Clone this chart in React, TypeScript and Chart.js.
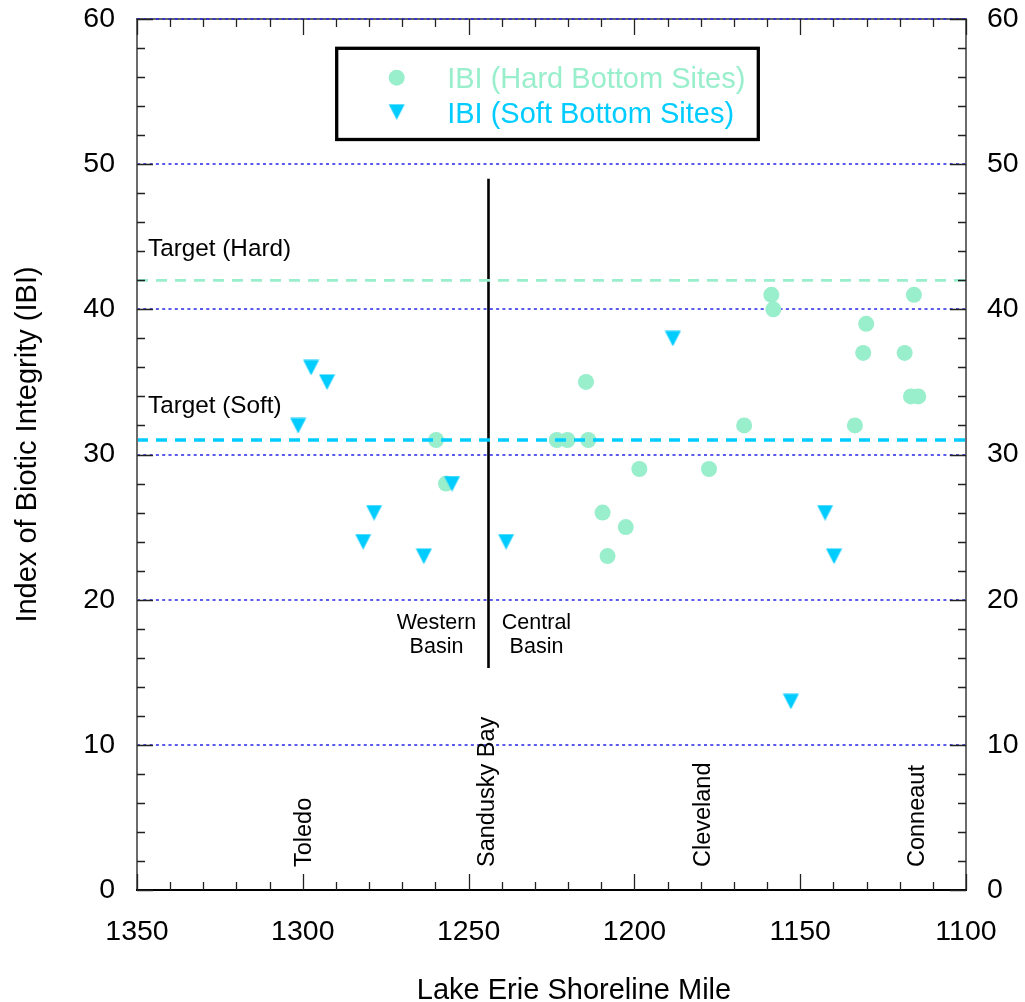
import React, { useEffect, useRef } from "react";
import { Chart, registerables } from "chart.js";

Chart.register(...registerables);

// ---------------- data ----------------
const hardMiles = [1259.8, 1256.8, 1223.4, 1220.2, 1213.9, 1214.6, 1198.5, 1209.6, 1202.6, 1208.1, 1177.5, 1166.9, 1158.7, 1158.1, 1130.1, 1131.0, 1133.5, 1118.5, 1115.7, 1116.6, 1114.4];
const hardIBI = [31, 28, 31, 31, 31, 35, 29, 26, 25, 23, 29, 32, 41, 40, 39, 37, 32, 37, 41, 34, 34];

const softMiles = [1301.4, 1297.5, 1292.7, 1281.8, 1278.5, 1263.5, 1255.0, 1238.7, 1188.4, 1152.8, 1142.5, 1139.8];
const softIBI = [32, 36, 35, 24, 26, 23, 28, 24, 38, 13, 26, 23];

const xMin = 1100;
const xMax = 1350;
const xMajorStep = 50;
const yMin = 0;
const yMax = 60;
const yMajorStep = 10;
const gridValues = [10, 20, 30, 40, 50];

const targetHard = 42;
const targetSoft = 31;
const dividerMile = 1244;
const dividerRange = [15.3, 49];

const placeNames = ["Toledo", "Sandusky Bay", "Cleveland", "Conneaut"];
const placeMiles = [1299.6, 1244.2, 1179.2, 1114.6];

const legendLabels = ["IBI (Hard Bottom Sites)", "IBI (Soft Bottom Sites)"];

// ---------------- styles ----------------
const FONT = '"Liberation Sans", Arial, Helvetica, sans-serif';
const HARD_COLOR = "#99EECC";
const SOFT_COLOR = "#00CCFF";
const GRID_COLOR = "#2424e6";

function makeTriangle(color: string) {
  const c = document.createElement("canvas");
  c.width = 17;
  c.height = 16;
  const g = c.getContext("2d")!;
  g.fillStyle = color;
  g.beginPath();
  g.moveTo(0.5, 0.5);
  g.lineTo(16.5, 0.5);
  g.lineTo(8.5, 16);
  g.closePath();
  g.fill();
  return c;
}

function drawGridLine(ctx: any, a: any, py: number) {
  ctx.beginPath();
  ctx.moveTo(a.left, py);
  ctx.lineTo(a.right, py);
  ctx.stroke();
}

const decorPlugin = {
  id: "decor",
  beforeDatasetsDraw(chart: any) {
    const { ctx, chartArea: a } = chart;
    const y = chart.scales.y;
    ctx.save();
    ctx.strokeStyle = GRID_COLOR;
    ctx.lineWidth = 1.4;
    ctx.setLineDash([3, 3.3]);
    for (const v of gridValues) {
      drawGridLine(ctx, a, Math.round(y.getPixelForValue(v)));
    }
    ctx.restore();
  },
  afterDraw(chart: any) {
    const { ctx, chartArea: a } = chart;
    const x = chart.scales.x;
    const y = chart.scales.y;
    ctx.save();

    // frame
    ctx.setLineDash([]);
    ctx.lineWidth = 2;
    ctx.strokeStyle = "#6b6b6b";
    ctx.beginPath();
    ctx.moveTo(a.left, a.top);
    ctx.lineTo(a.left, a.bottom);
    ctx.moveTo(a.right, a.top);
    ctx.lineTo(a.right, a.bottom);
    ctx.stroke();
    ctx.strokeStyle = "#000";
    ctx.beginPath();
    ctx.moveTo(a.left - 1, a.bottom);
    ctx.lineTo(a.right + 1, a.bottom);
    ctx.stroke();
    ctx.lineWidth = 1.5;
    ctx.strokeStyle = "#333";
    ctx.beginPath();
    ctx.moveTo(a.left - 1, a.top);
    ctx.lineTo(a.right + 1, a.top);
    ctx.stroke();
    // top gridline (60)
    ctx.strokeStyle = GRID_COLOR;
    ctx.lineWidth = 1.4;
    ctx.setLineDash([3, 3.3]);
    drawGridLine(ctx, a, Math.round(y.getPixelForValue(yMax)));
    ctx.setLineDash([]);

    // ticks (inward, all four sides)
    ctx.strokeStyle = "#222";
    ctx.lineWidth = 1.3;
    ctx.beginPath();
    for (let v = xMin; v <= xMax; v += xMajorStep / 5) {
      const px = Math.round(x.getPixelForValue(v)) + 0.5;
      const len = v % xMajorStep === 0 ? 16 : 8;
      ctx.moveTo(px, a.bottom);
      ctx.lineTo(px, a.bottom - len);
      ctx.moveTo(px, a.top);
      ctx.lineTo(px, a.top + len);
    }
    for (let v = yMin; v <= yMax; v += yMajorStep / 5) {
      const py = Math.round(y.getPixelForValue(v)) + 0.5;
      const len = v % yMajorStep === 0 ? 16 : 8;
      ctx.moveTo(a.left, py);
      ctx.lineTo(a.left + len, py);
      ctx.moveTo(a.right, py);
      ctx.lineTo(a.right - len, py);
    }
    ctx.stroke();

    ctx.fillStyle = "#000";
    // target labels
    ctx.font = `24.3px ${FONT}`;
    ctx.textAlign = "left";
    ctx.textBaseline = "alphabetic";
    ctx.fillText("Target (Hard)", a.left + 11, y.getPixelForValue(targetHard) - 24);
    ctx.fillText("Target (Soft)", a.left + 11, y.getPixelForValue(targetSoft) - 27);

    // basin labels
    ctx.font = `21.5px ${FONT}`;
    ctx.textAlign = "center";
    const dx = x.getPixelForValue(dividerMile);
    const by1 = y.getPixelForValue(dividerRange[0]) - 38.7;
    const by2 = by1 + 24;
    ctx.fillText("Western", dx - 52, by1);
    ctx.fillText("Basin", dx - 52, by2);
    ctx.fillText("Central", dx + 48, by1);
    ctx.fillText("Basin", dx + 48, by2);

    // place labels (rotated)
    ctx.font = `23.5px ${FONT}`;
    ctx.textAlign = "left";
    ctx.textBaseline = "middle";
    placeNames.forEach((name, i) => {
      ctx.save();
      ctx.translate(x.getPixelForValue(placeMiles[i]), a.bottom - 23);
      ctx.rotate(-Math.PI / 2);
      ctx.fillText(name, 0, 0);
      ctx.restore();
    });

    // axis titles
    ctx.font = `29px ${FONT}`;
    ctx.textAlign = "center";
    ctx.textBaseline = "alphabetic";
    ctx.fillText("Lake Erie Shoreline Mile", 574, 999);
    ctx.save();
    ctx.translate(36, 444.5);
    ctx.rotate(-Math.PI / 2);
    ctx.fillText("Index of Biotic Integrity (IBI)", 0, 0);
    ctx.restore();

    // legend
    const lx = a.left + 199.7;
    const ly = a.top + 29.3;
    ctx.lineWidth = 3.3;
    ctx.strokeStyle = "#000";
    ctx.strokeRect(lx, ly, 421.6, 91.2);
    ctx.fillStyle = HARD_COLOR;
    ctx.beginPath();
    ctx.arc(lx + 60, ly + 29.4, 8, 0, Math.PI * 2);
    ctx.fill();
    const tri = chart.$tri;
    if (tri) ctx.drawImage(tri, lx + 60 - 8.5, ly + 63.4 - 8);
    ctx.font = `29px ${FONT}`;
    ctx.textAlign = "left";
    ctx.fillStyle = HARD_COLOR;
    ctx.fillText(legendLabels[0], lx + 110.5, ly + 40);
    ctx.fillStyle = SOFT_COLOR;
    ctx.fillText(legendLabels[1], lx + 110.5, ly + 74.4);

    ctx.restore();
  },
};

const plainTick = (v: any) => String(v);

export default function App() {
  const ref = useRef<HTMLCanvasElement | null>(null);

  useEffect(() => {
    if (!ref.current) return;
    const tri = makeTriangle(SOFT_COLOR);
    const hardData = hardMiles.map((m, i) => ({ x: m, y: hardIBI[i] }));
    const softData = softMiles.map((m, i) => ({ x: m, y: softIBI[i] }));
    const tickFont = { family: FONT, size: 28.5 };
    const noPad = (s: any) => {
      s.paddingTop = 0;
      s.paddingBottom = 0;
      s.paddingLeft = 0;
      s.paddingRight = 0;
    };

    const chart = new Chart(ref.current, {
      type: "scatter",
      data: {
        datasets: [
          {
            label: "Target (Hard)",
            data: [
              { x: xMax, y: targetHard },
              { x: xMin, y: targetHard },
            ],
            showLine: true,
            borderColor: HARD_COLOR,
            borderWidth: 2.7,
            borderDash: [11, 8],
            pointRadius: 0,
            order: 1,
          },
          {
            label: "Target (Soft)",
            data: [
              { x: xMax, y: targetSoft },
              { x: xMin, y: targetSoft },
            ],
            showLine: true,
            borderColor: SOFT_COLOR,
            borderWidth: 3.4,
            borderDash: [11, 8],
            pointRadius: 0,
            order: 1,
          },
          {
            label: "Basin divider",
            data: [
              { x: dividerMile, y: dividerRange[0] },
              { x: dividerMile, y: dividerRange[1] },
            ],
            showLine: true,
            borderColor: "#000",
            borderWidth: 2.6,
            pointRadius: 0,
            order: 1,
          },
          {
            label: legendLabels[0],
            data: hardData,
            backgroundColor: HARD_COLOR,
            borderWidth: 0,
            pointRadius: 8,
            order: 3,
          },
          {
            label: legendLabels[1],
            data: softData,
            pointStyle: tri as any,
            backgroundColor: SOFT_COLOR,
            borderWidth: 0,
            pointRadius: 8,
            order: 2,
          },
        ],
      },
      options: {
        responsive: false,
        animation: false,
        devicePixelRatio: 1,
        layout: { padding: { top: 19, left: 0, right: 0, bottom: 0 } },
        plugins: { legend: { display: false }, tooltip: { enabled: false } },
        scales: {
          x: {
            type: "linear",
            position: "bottom",
            min: xMin,
            max: xMax,
            reverse: true,
            grid: { display: false, drawTicks: false },
            border: { display: false },
            ticks: { stepSize: xMajorStep, font: tickFont, color: "#000", padding: 25, maxRotation: 0, autoSkip: false, callback: plainTick },
            afterFit: (s: any) => {
              s.height = 112;
              noPad(s);
            },
          },
          y: {
            type: "linear",
            position: "left",
            min: yMin,
            max: yMax,
            grid: { display: false, drawTicks: false },
            border: { display: false },
            ticks: { stepSize: yMajorStep, font: tickFont, color: "#000", padding: 22, callback: plainTick },
            afterFit: (s: any) => {
              s.width = 137;
              noPad(s);
            },
          },
          y2: {
            type: "linear",
            position: "right",
            min: yMin,
            max: yMax,
            grid: { display: false, drawTicks: false },
            border: { display: false },
            ticks: { stepSize: yMajorStep, font: tickFont, color: "#000", padding: 21, callback: plainTick },
            afterFit: (s: any) => {
              s.width = 59;
              noPad(s);
            },
          },
        },
      } as any,
      plugins: [decorPlugin as any],
    });
    (chart as any).$tri = tri;
    chart.draw();

    return () => chart.destroy();
  }, []);

  return (
    <div style={{ position: "absolute", left: 0, top: 0, width: 1025, height: 1002, background: "#fff" }}>
      <canvas ref={ref} width={1025} height={1002} style={{ display: "block" }} />
    </div>
  );
}
